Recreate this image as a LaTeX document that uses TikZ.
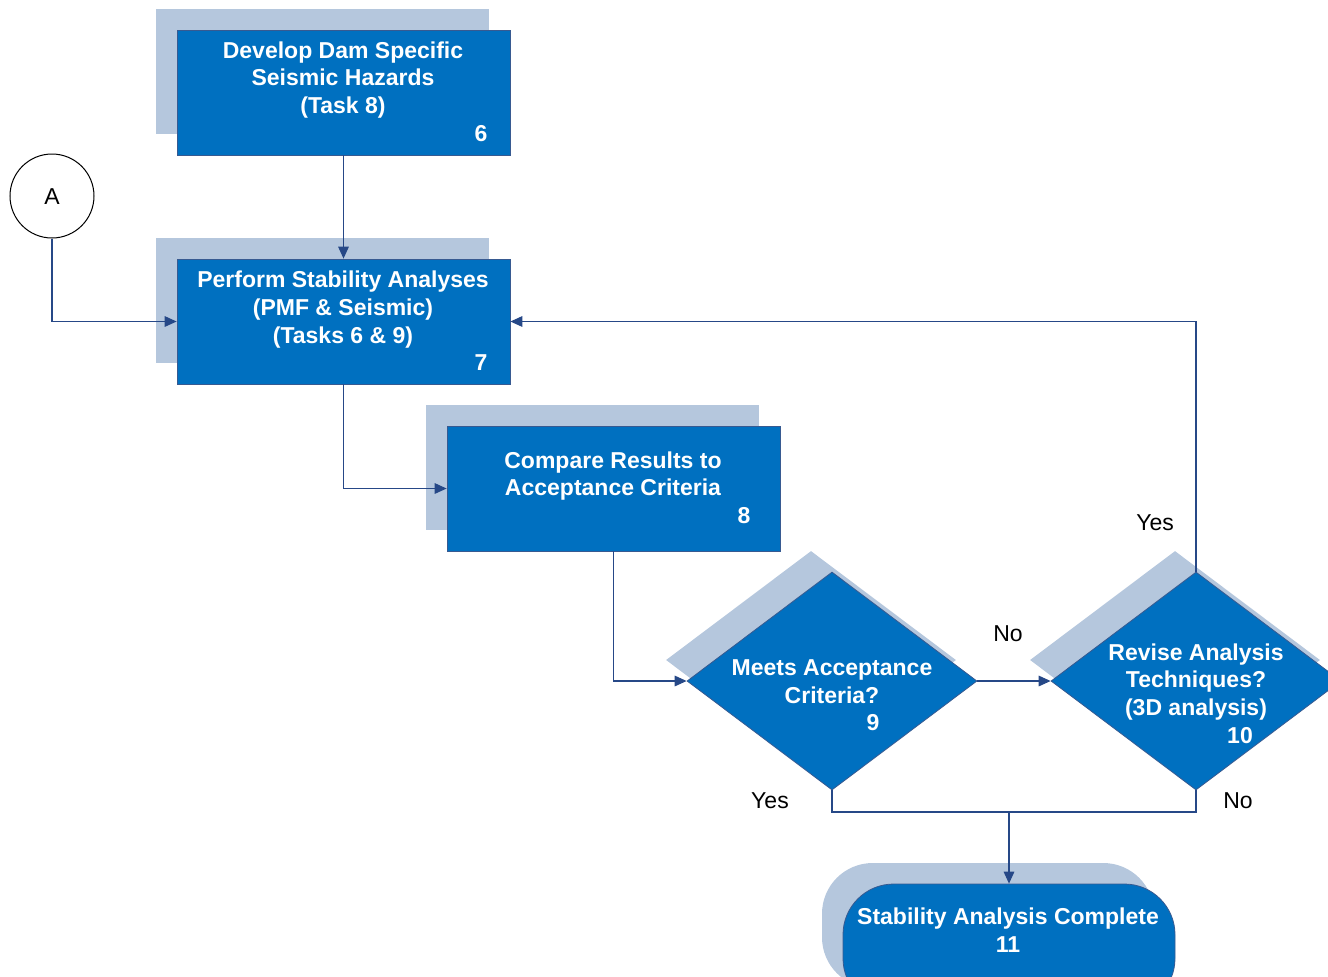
\documentclass[tikz,border=0pt]{standalone}
\usepackage{fontspec}
\setmainfont{Liberation Sans}
\usetikzlibrary{shapes.geometric,arrows.meta}
\definecolor{mainblue}{RGB}{0,112,192}
\definecolor{shadowblue}{RGB}{181,199,221}
\definecolor{edgeblue}{RGB}{55,90,145}
\definecolor{linkblue}{RGB}{38,72,135}
\begin{document}
\begin{tikzpicture}[x=0.75pt,y=-0.75pt,
  procbox/.style={rectangle, fill=mainblue, draw=edgeblue, line width=0.6pt, minimum width=249.75pt, minimum height=93.75pt, inner sep=0pt},
  procshadow/.style={rectangle, fill=shadowblue, minimum width=249.75pt, minimum height=93.75pt, inner sep=0pt},
  decbox/.style={diamond, fill=mainblue, draw=edgeblue, line width=0.6pt, minimum width=217.5pt, minimum height=163.5pt, inner sep=0pt},
  decshadow/.style={diamond, fill=shadowblue, minimum width=217.5pt, minimum height=163.5pt, inner sep=0pt},
  termbox/.style={rectangle, rounded corners=38pt, fill=mainblue, draw=edgeblue, line width=0.6pt, minimum width=249pt, minimum height=93.75pt, inner sep=0pt},
  termshadow/.style={rectangle, rounded corners=38pt, fill=shadowblue, minimum width=249pt, minimum height=93.75pt, inner sep=0pt},
  boxtext/.style={text=white, font=\fontsize{17.25}{20.8}\selectfont\bfseries, align=center, inner sep=0pt},
  plaintext/.style={text=black, font=\fontsize{17.25}{20.8}\selectfont, inner sep=0pt},
  link/.style={draw=linkblue, line width=0.8pt, -{Triangle[length=9pt,width=8pt]}},
  linkplain/.style={draw=linkblue, line width=0.8pt},
  connector/.style={circle, draw=black, fill=white, line width=0.75pt, minimum size=63pt, inner sep=0pt}
]
\useasboundingbox (0,0) rectangle (1328,976);
\clip (0,0) rectangle (1328,976);

% shadows and boxes
\node[procshadow] (s6) at (322.5,71.5) {};
\node[procbox] (b6) at (343.5,92.5) {};
\node[procshadow] (s7) at (322.5,300.5) {};
\node[procbox] (b7) at (343.5,321.5) {};
\node[procshadow] (s8) at (592.5,467.5) {};
\node[procbox] (b8) at (613.5,488.5) {};
\node[decshadow] (s9) at (811,660) {};
\node[decbox] (d9) at (832,681) {};
\node[decshadow] (s10) at (1175,660) {};
\node[decbox] (d10) at (1196,681) {};
\node[termshadow] (s11) at (988,925.5) {};
\node[termbox] (t11) at (1009,946.5) {};
\node[connector] (A) at (52,196) {};

% texts
\node[boxtext] (t6a) at (343,80) {Develop Dam Specific\\Seismic Hazards\\(Task 8)};
\node[boxtext] (t6b) at (481,134) {6};
\node[boxtext] (t7a) at (343,309.5) {Perform Stability Analyses\\(PMF \& Seismic)\\(Tasks 6 \& 9)};
\node[boxtext] (t7b) at (481,363) {7};
\node[boxtext] (t8a) at (613,476) {Compare Results to\\Acceptance Criteria};
\node[boxtext] (t8b) at (744,516) {8};
\node[boxtext] (t9a) at (832,681.5) {Meets Acceptance\\Criteria?};
\node[boxtext] (t9b) at (873,723) {9};
\node[boxtext] (t10a) at (1196,682) {Revise Analysis\\Techniques?\\(3D analysis)};
\node[boxtext] (t10b) at (1240,736) {10};
\node[boxtext] (t11a) at (1008,930.5) {Stability Analysis Complete\\11};
\node[plaintext] (tA) at (52,196.5) {A};

% labels
\node[plaintext] (lno1) at (1008,634) {No};
\node[plaintext] (lyes1) at (1155,523) {Yes};
\node[plaintext] (lyes2) at (770,801) {Yes};
\node[plaintext] (lno2) at (1238,801) {No};

% connectors
\coordinate (j) at (1009,812);
\draw[link] (b6.south) -- (b7.north);
\draw[link] (A.south) |- (b7.west);
\draw[link] (b7.south) |- (b8.west);
\draw[link] (b8.south) |- (d9.west);
\draw[link] (d9.east) -- (d10.west);
\draw[link] (d10.north) |- (b7.east);
\draw[linkplain] (d9.south) |- (j) -| (d10.south);
\draw[link] (j) -- (t11.north);
\end{tikzpicture}
\end{document}
